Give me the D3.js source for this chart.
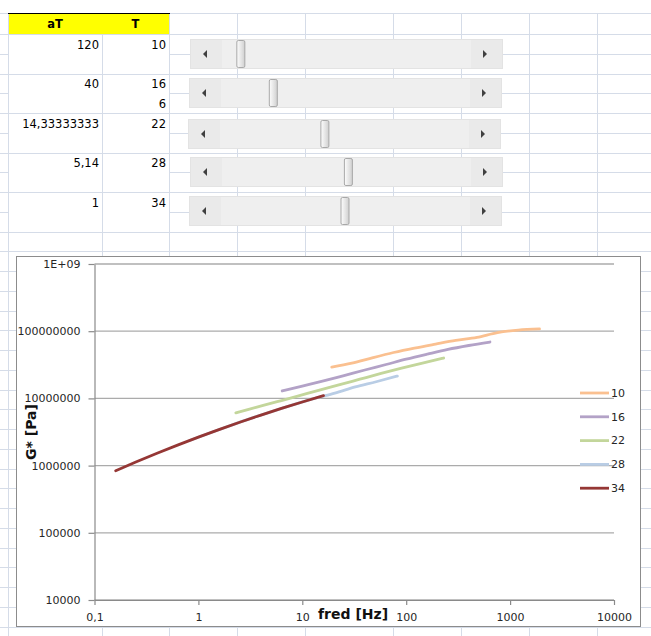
<!DOCTYPE html>
<html>
<head>
<meta charset="utf-8">
<script src="https://cdn.jsdelivr.net/npm/d3@7"></script>
<style>
  html, body { margin: 0; padding: 0; background: #fff; }
  svg { display: block; }
  text { font-family: "DejaVu Sans", Verdana, sans-serif; }
</style>
</head>
<body>
<svg id="sheet" width="651" height="636"></svg>
<script>
// ---- data -------------------------------------------------------------
// measured frequencies of the sweep [Hz]
const freqHz = [0.16, 0.25, 0.4, 0.63, 1, 1.6, 2.5, 4, 6.3, 10, 16];
// test temperatures and their shift factors aT (reference T = 34)
const temps = [10, 16, 22, 28, 34];
const shiftFactors = [120, 40, 14.33333333, 5.14, 1];
const shiftLabels = ["120", "40", "14,33333333", "5,14", "1"];
// complex modulus |G*| [Pa] per temperature
const gStar10 = [2.93e7, 3.34e7, 4.05e7, 4.82e7, 5.61e7, 6.43e7, 7.28e7, 8.09e7, 9.53e7, 1.04e8, 1.08e8];
const gStar16 = [1.29e7, 1.524e7, 1.821e7, 2.19e7, 2.646e7, 3.195e7, 3.831e7, 4.562e7, 5.36e7, 6.127e7, 6.90e7];
const gStar22 = [6.11e6, 7.35e6, 8.93e6, 1.08e7, 1.32e7, 1.60e7, 1.93e7, 2.35e7, 2.82e7, 3.36e7, 3.99e7];
const gStar28 = [2.364e6, 3.061e6, 3.975e6, 5.075e6, 6.412e6, 8.058e6, 9.93e6, 1.20e7, 1.48e7, 1.77e7, 2.15e7];
const gStar34 = [8.40e5, 1.129e6, 1.524e6, 2.019e6, 2.651e6, 3.463e6, 4.425e6, 5.651e6, 7.089e6, 8.841e6, 1.097e7];
const gStarByTemp = [gStar10, gStar16, gStar22, gStar28, gStar34];
// an extra cell value in the T column (row under 16)
const extraCell = "6";
// scroll bar values (0..100) linked to the temperatures
const scrollValues = [6, 20, 42, 51, 50];
// axis ticks
const xTicks = [0.1, 1, 10, 100, 1000, 10000];
const yTicks = [1e4, 1e5, 1e6, 1e7, 1e8, 1e9];

// ---- styles -----------------------------------------------------------
const seriesColors = ["#FAC090", "#B3A2C7", "#C3D69B", "#B9CDE5", "#953735"];
const gridBlue = "#D5DCE8";

const svg = d3.select("#sheet");

// ---- worksheet grid ---------------------------------------------------
const colEdges = [8, 102, 169, 237, 305, 393, 461, 529, 597];
const headerTop = 13, headerBottom = 34, rowH = 19.75;
const rowLines = d3.range(0, 31).map(k => headerBottom + k * rowH);

const grid = svg.append("g").attr("shape-rendering", "crispEdges");
grid.append("line").attr("x1", 0).attr("x2", 651).attr("y1", headerTop).attr("y2", headerTop)
  .attr("stroke", gridBlue);
rowLines.forEach((y, k) => {
  // inside the table (columns A:B) only every second row line is shown
  const hidden = k % 2 === 1 && k < 10;
  const x0 = hidden ? colEdges[2] : 0;
  grid.append("line").attr("x1", x0).attr("x2", 651)
    .attr("y1", Math.round(y) + 0.5).attr("y2", Math.round(y) + 0.5)
    .attr("stroke", gridBlue);
  if (hidden) {
    grid.append("line").attr("x1", 0).attr("x2", colEdges[0])
      .attr("y1", Math.round(y) + 0.5).attr("y2", Math.round(y) + 0.5)
      .attr("stroke", gridBlue);
  }
});
colEdges.forEach(x => {
  grid.append("line").attr("x1", x + 0.5).attr("x2", x + 0.5)
    .attr("y1", headerTop).attr("y2", 636).attr("stroke", gridBlue);
});

// header cells
grid.append("rect").attr("x", colEdges[0] + 1).attr("y", headerTop + 0.5)
  .attr("width", colEdges[2] - colEdges[0] - 1).attr("height", headerBottom - headerTop - 0.5)
  .attr("fill", "#FFFF00");
grid.append("line").attr("x1", colEdges[0]).attr("x2", colEdges[2] + 1)
  .attr("y1", headerTop + 0.5).attr("y2", headerTop + 0.5).attr("stroke", "#000");

const cellFont = 11.5;
svg.append("text").attr("x", (colEdges[0] + colEdges[1]) / 2).attr("y", 28)
  .attr("text-anchor", "middle").attr("font-size", cellFont).attr("font-weight", "bold").text("aT");
svg.append("text").attr("x", (colEdges[1] + colEdges[2]) / 2).attr("y", 28)
  .attr("text-anchor", "middle").attr("font-size", cellFont).attr("font-weight", "bold").text("T");

// data cells: one temperature every second row
const rowOf = [0, 2, 4, 6, 8];
temps.forEach((t, i) => {
  const base = headerBottom + rowOf[i] * rowH + 14.5;
  svg.append("text").attr("x", colEdges[1] - 3).attr("y", base)
    .attr("text-anchor", "end").attr("font-size", cellFont).text(shiftLabels[i]);
  svg.append("text").attr("x", colEdges[2] - 3).attr("y", base)
    .attr("text-anchor", "end").attr("font-size", cellFont).text(t);
});
svg.append("text").attr("x", colEdges[2] - 3).attr("y", headerBottom + 3 * rowH + 14.5)
  .attr("text-anchor", "end").attr("font-size", cellFont).text(extraCell);

// ---- scroll bars ------------------------------------------------------
const defs = svg.append("defs");
const thumbGrad = defs.append("linearGradient").attr("id", "thumbGrad")
  .attr("x1", 0).attr("x2", 1).attr("y1", 0).attr("y2", 0);
thumbGrad.append("stop").attr("offset", "0%").attr("stop-color", "#fdfdfd");
thumbGrad.append("stop").attr("offset", "60%").attr("stop-color", "#e2e2e2");
thumbGrad.append("stop").attr("offset", "100%").attr("stop-color", "#cfcfcf");

const sbLeft = [190, 189, 188, 190, 189];
const sbTop = [39, 78, 119, 157, 196];
const sbW = 312, sbH = 29, btnW = 32, thumbW = 9;
const sbScale = d3.scaleLinear().domain([0, 100]).range([0, sbW - 2 * btnW - thumbW]);

scrollValues.forEach((v, i) => {
  const g = svg.append("g").attr("transform", `translate(${sbLeft[i]},${sbTop[i]})`);
  g.append("rect").attr("x", 0.5).attr("y", 0.5).attr("width", sbW).attr("height", sbH)
    .attr("fill", "#EFEFEF").attr("stroke", "#E3E3E3");
  g.append("rect").attr("x", 1).attr("y", 1).attr("width", btnW - 1).attr("height", sbH - 1)
    .attr("fill", "#EAEAEA");
  g.append("rect").attr("x", sbW - btnW + 1).attr("y", 1).attr("width", btnW - 1).attr("height", sbH - 1)
    .attr("fill", "#EAEAEA");
  const cy = sbH / 2 + 0.5;
  g.append("path").attr("d", `M13,${cy} L17,${cy - 4} L17,${cy + 4} Z`).attr("fill", "#404040");
  g.append("path").attr("d", `M${sbW - 15},${cy} L${sbW - 19},${cy - 4} L${sbW - 19},${cy + 4} Z`)
    .attr("fill", "#404040");
  g.append("rect").attr("x", btnW + sbScale(v) + 0.5).attr("y", 1.5)
    .attr("width", thumbW - 1).attr("height", sbH - 2).attr("rx", 1.5)
    .attr("fill", "url(#thumbGrad)").attr("stroke", "#A8A8A8");
});

// ---- chart ------------------------------------------------------------
const chart = svg.append("g");
chart.append("rect").attr("x", 16.5).attr("y", 256.5).attr("width", 624).attr("height", 370)
  .attr("fill", "#fff").attr("stroke", "#8C8C8C");

const x = d3.scaleLog().domain([0.1, 10000]).range([94.5, 614]);
const y = d3.scaleLog().domain([1e4, 1e9]).range([600, 264]);

// horizontal gridlines
chart.append("g").selectAll("line").data(yTicks).join("line")
  .attr("x1", x.range()[0]).attr("x2", x.range()[1])
  .attr("y1", d => y(d)).attr("y2", d => y(d))
  .attr("stroke", "#ABABAB").attr("stroke-width", 1.3);

const fmtY = v => v >= 1e9 ? "1E+09" : String(v);
const fmtX = v => String(v).replace(".", ",");

const yAxis = chart.append("g").attr("transform", `translate(${x.range()[0]},0)`)
  .call(d3.axisLeft(y).tickValues(yTicks).tickFormat(fmtY).tickSize(6).tickSizeOuter(0).tickPadding(8));
const xAxis = chart.append("g").attr("transform", `translate(0,${y.range()[0]})`)
  .call(d3.axisBottom(x).tickValues(xTicks).tickFormat(fmtX).tickSize(5).tickSizeOuter(0).tickPadding(8));
[yAxis, xAxis].forEach(a => {
  a.selectAll("path, line").attr("stroke", "#8A8A8A").attr("stroke-width", 1.2);
  a.selectAll("text").attr("font-family", "DejaVu Sans").attr("font-size", 11).attr("fill", "#262626");
});

// curves: reduced frequency = f * aT
const line = d3.line().x(d => x(d.f)).y(d => y(d.g)).curve(d3.curveMonotoneX);
temps.forEach((t, i) => {
  const pts = freqHz.map((f, j) => ({ f: f * shiftFactors[i], g: gStarByTemp[i][j] }));
  chart.append("path").datum(pts).attr("d", line)
    .attr("fill", "none").attr("stroke", seriesColors[i])
    .attr("stroke-width", 2.8).attr("stroke-linecap", "round");
});

// axis titles
chart.append("text").attr("transform", "translate(36,432) rotate(-90)")
  .attr("text-anchor", "middle").attr("font-size", 14).attr("font-weight", "bold")
  .attr("fill", "#111").text("G* [Pa]");
chart.append("text").attr("x", 318).attr("y", 619)
  .attr("font-size", 14).attr("font-weight", "bold").attr("fill", "#111").text("fred [Hz]");

// legend
const legend = chart.append("g");
temps.forEach((t, i) => {
  const ly = 393 + i * 23.8;
  legend.append("line").attr("x1", 580).attr("x2", 609).attr("y1", ly).attr("y2", ly)
    .attr("stroke", seriesColors[i]).attr("stroke-width", 2.8);
  legend.append("text").attr("x", 611).attr("y", ly).attr("dy", "0.35em")
    .attr("font-size", 11).attr("fill", "#262626").text(t);
});
</script>
</body>
</html>
